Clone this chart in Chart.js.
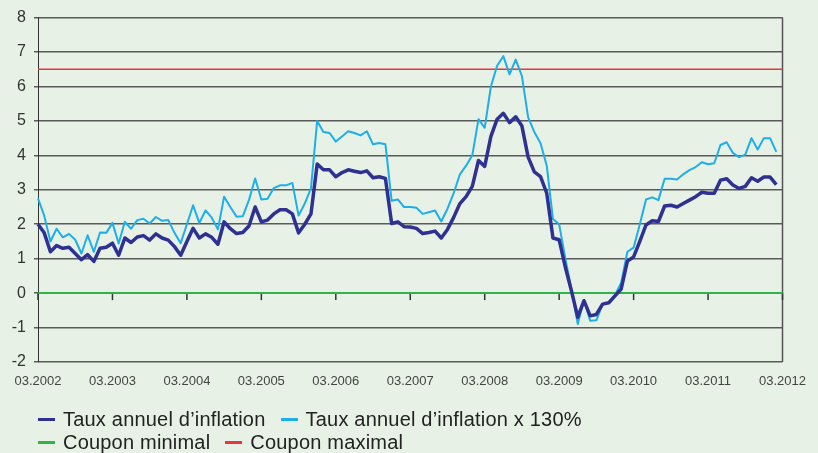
<!DOCTYPE html>
<html>
<head>
<meta charset="utf-8">
<script src="https://cdn.jsdelivr.net/npm/chart.js@4.4.1/dist/chart.umd.min.js"></script>
<style>
  body { margin: 0; background: #e8f1e6; }
  #wrap { position: relative; width: 818px; height: 453px; background: #e8f1e6; }
  #legend {
    position: absolute; left: 38px; top: 408px;
    font-family: 'Liberation Sans', Arial, sans-serif; font-size: 20px; color: #222;
    letter-spacing: 0.2px;
  }
  .row { display: flex; align-items: center; height: 23px; }
  .item { display: flex; align-items: center; margin-right: 15px; white-space: nowrap; }
  .mark { width: 17px; height: 3px; margin-right: 8px; }
</style>
</head>
<body>
<div id="wrap">
  <canvas id="inflationChart" width="818" height="453"></canvas>
  <div id="legend"></div>
</div>
<script>
// tick labels on the x axis (one per year, March)
const yearLabels = ['03.2002', '03.2003', '03.2004', '03.2005', '03.2006', '03.2007',
  '03.2008', '03.2009', '03.2010', '03.2011', '03.2012'];

// monthly values, from 03.2002
const inflation = [
  2.0, 1.75, 1.2, 1.38, 1.3, 1.33, 1.15, 0.97, 1.12, 0.92, 1.3, 1.33, 1.45, 1.1, 1.6, 1.47, 1.63, 1.67, 1.54, 1.72,
  1.6, 1.54, 1.35, 1.1, 1.5, 1.88, 1.6, 1.72, 1.62, 1.42, 2.07, 1.87, 1.73, 1.76, 1.95, 2.5, 2.07, 2.12, 2.3, 2.42,
  2.42, 2.3, 1.75, 2.0, 2.3, 3.75, 3.58, 3.58, 3.38, 3.5, 3.58, 3.54, 3.5, 3.55, 3.35, 3.38, 3.33, 2.02, 2.07, 1.93,
  1.92, 1.88, 1.73, 1.76, 1.8, 1.6, 1.85, 2.2, 2.6, 2.8, 3.1, 3.85, 3.68, 4.55, 5.05, 5.22, 4.95, 5.12, 4.85, 3.95,
  3.52, 3.38, 2.9, 1.6, 1.55, 0.75, 0.05, -0.7, -0.22, -0.66, -0.62, -0.32, -0.28, -0.08, 0.12, 0.93, 1.05, 1.5, 1.98, 2.1,
  2.08, 2.53, 2.55, 2.5, 2.6, 2.7, 2.8, 2.93, 2.9, 2.9, 3.28, 3.32, 3.14, 3.04, 3.1, 3.35, 3.25, 3.37, 3.37, 3.15
];

const inflation130 = [
  2.75, 2.25, 1.5, 1.87, 1.62, 1.72, 1.55, 1.15, 1.68, 1.2, 1.76, 1.75, 2.04, 1.44, 2.07, 1.87, 2.12, 2.16, 2.02, 2.21,
  2.1, 2.12, 1.75, 1.45, 2.0, 2.55, 2.04, 2.4, 2.19, 1.85, 2.8, 2.5, 2.22, 2.23, 2.7, 3.33, 2.72, 2.74, 3.05, 3.13,
  3.13, 3.2, 2.25, 2.6, 3.05, 5.0, 4.68, 4.65, 4.4, 4.55, 4.7, 4.65, 4.58, 4.7, 4.32, 4.36, 4.32, 2.68, 2.72, 2.5,
  2.5, 2.48, 2.3, 2.35, 2.4, 2.08, 2.45, 2.9, 3.45, 3.7, 4.0, 5.05, 4.8, 6.0, 6.6, 6.88, 6.35, 6.78, 6.3, 5.1,
  4.68, 4.35, 3.7, 2.15, 2.0, 1.0, 0.1, -0.9, -0.2, -0.8, -0.79, -0.32, -0.28, -0.05, 0.3, 1.2, 1.32, 2.0, 2.72, 2.78,
  2.7, 3.32, 3.32, 3.3, 3.45, 3.57, 3.66, 3.8, 3.74, 3.77, 4.3, 4.38, 4.07, 3.95, 4.02, 4.5, 4.17, 4.5, 4.5, 4.1
];

const couponMin = 0;
const couponMax = 6.5;

const seriesNames = ['Taux annuel d\u2019inflation', 'Taux annuel d\u2019inflation x 130%', 'Coupon minimal', 'Coupon maximal'];
const seriesColors = ['#2e3192', '#1eaee8', '#2fb34a', '#e5373d'];

// one category per month, 03.2002 .. 03.2012
const months = [];
yearLabels.forEach((lab, i) => {
  const y0 = parseInt(lab.slice(3), 10);
  if (i === yearLabels.length - 1) { months.push(lab); return; }
  for (let m = 0; m < 12; m++) {
    const mm = (m + 2) % 12 + 1;
    const yy = mm < 3 ? y0 + 1 : y0;
    months.push(String(mm).padStart(2, '0') + '.' + yy);
  }
});
const first = months[0], last = months[months.length - 1];

// zero line tick marks and right border
const framePlugin = {
  id: 'frame',
  beforeDatasetsDraw(chart) {
    const { ctx, chartArea, scales } = chart;
    const y0 = scales.y.getPixelForValue(0);
    ctx.save();
    ctx.strokeStyle = '#555';
    ctx.lineWidth = 1.5;
    ctx.beginPath();
    ctx.moveTo(chartArea.right, chartArea.top);
    ctx.lineTo(chartArea.right, chartArea.bottom);
    ctx.stroke();
    ctx.strokeStyle = '#333';
    ctx.lineWidth = 1.5;
    yearLabels.forEach(lab => {
      const x = scales.x.getPixelForValue(months.indexOf(lab));
      ctx.beginPath();
      ctx.moveTo(x, y0);
      ctx.lineTo(x, y0 + 7);
      ctx.stroke();
    });
    ctx.restore();
  }
};

const ctx = document.getElementById('inflationChart').getContext('2d');
new Chart(ctx, {
  type: 'line',
  data: {
    labels: months,
    datasets: [
      { label: seriesNames[0], data: inflation, borderColor: seriesColors[0], borderWidth: 3.5 },
      { label: seriesNames[1], data: inflation130, borderColor: seriesColors[1], borderWidth: 2 },
      { label: seriesNames[2], data: [{ x: first, y: couponMin }, { x: last, y: couponMin }], borderColor: seriesColors[2], borderWidth: 2 },
      { label: seriesNames[3], data: [{ x: first, y: couponMax }, { x: last, y: couponMax }], borderColor: seriesColors[3], borderWidth: 1.5 }
    ]
  },
  options: {
    responsive: false,
    animation: false,
    events: [],
    elements: { point: { radius: 0 }, line: { tension: 0, borderJoinStyle: 'round' } },
    layout: { padding: { top: 17, right: 33, left: 0, bottom: 0 } },
    plugins: { legend: { display: false }, tooltip: { enabled: false } },
    scales: {
      x: {
        type: 'category',
        offset: false,
        grid: { display: false, drawTicks: false },
        border: { display: false },
        ticks: {
          autoSkip: false,
          maxRotation: 0,
          padding: 12,
          color: '#444',
          font: { family: "'Liberation Sans Narrow', 'Liberation Sans', Arial", size: 13 },
          callback: (v, i) => months[i].startsWith('03.') ? months[i] : null
        },
        afterFit: s => { s.height = 91; }
      },
      y: {
        min: -2,
        max: 8,
        ticks: {
          stepSize: 1,
          padding: 8,
          color: '#333',
          font: { family: "'Liberation Sans', Arial", size: 16 }
        },
        grid: { color: '#5a5a5a', lineWidth: 1.5, tickLength: 4 },
        border: { display: true, color: '#333', width: 1 },
        afterFit: s => { s.width = 38; }
      }
    }
  },
  plugins: [framePlugin]
});

// legend in two rows like the original
const legend = document.getElementById('legend');
[[0, 1], [2, 3]].forEach(row => {
  const r = document.createElement('div');
  r.className = 'row';
  row.forEach(i => {
    const it = document.createElement('div');
    it.className = 'item';
    it.innerHTML = '<span class="mark" style="background:' + seriesColors[i] + '"></span>' + seriesNames[i];
    r.appendChild(it);
  });
  legend.appendChild(r);
});
</script>
</body>
</html>
